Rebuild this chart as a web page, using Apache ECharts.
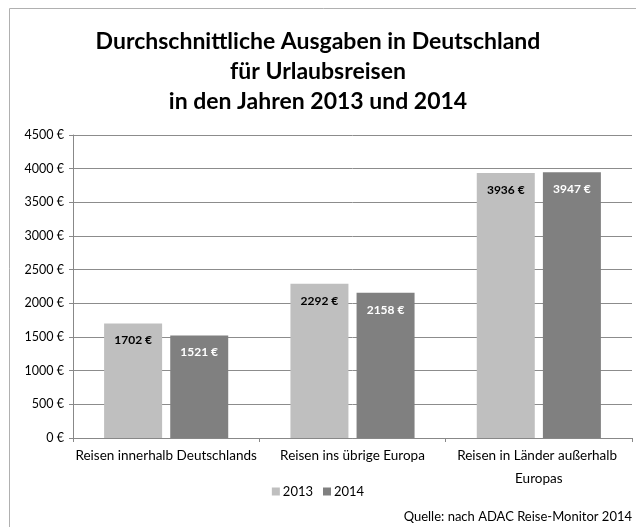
<!DOCTYPE html>
<html>
<head>
<meta charset="utf-8">
<script src="https://cdn.jsdelivr.net/npm/echarts@6/dist/echarts.min.js"></script>
<style>
  html, body { margin: 0; padding: 0; background: #fff; }
  #chart { width: 636px; height: 527px; }
</style>
</head>
<body>
<div id="chart"></div>
<script>
// Daten aus der Vorlage
const categories = ['Reisen innerhalb Deutschlands', 'Reisen ins übrige Europa', 'Reisen in Länder außerhalb Europas'];
const values2013 = [1702, 2292, 3936];
const values2014 = [1521, 2158, 3947];
const seriesNames = ['2013', '2014'];
const titleText = 'Durchschnittliche Ausgaben in Deutschland\nfür Urlaubsreisen\nin den Jahren 2013 und 2014';
const sourceText = 'Quelle: nach ADAC Reise-Monitor 2014';

const fontFamily = 'Lato, "Open Sans", sans-serif';
const chart = echarts.init(document.getElementById('chart'));

const option = {
  backgroundColor: '#fff',
  textStyle: { fontFamily: fontFamily },
  title: {
    text: titleText,
    left: 'center',
    top: 22,
    textStyle: { fontSize: 23, fontWeight: 'bold', color: '#000', lineHeight: 30, fontFamily: fontFamily }
  },
  graphic: [
    {
      type: 'rect',
      shape: { x: 9.5, y: 8.5, width: 640, height: 530 },
      style: { fill: 'none', stroke: '#b0b0b0', lineWidth: 1 },
      silent: true
    },
    {
      type: 'text',
      right: 4,
      bottom: 4,
      style: { text: sourceText, fontSize: 13, fontFamily: 'Lato', fill: '#000' }
    }
  ],
  legend: {
    data: seriesNames,
    bottom: 24,
    left: 'center',
    itemWidth: 8,
    itemHeight: 8,
    itemGap: 10,
    icon: 'rect',
    textStyle: { fontSize: 13, color: '#000', padding: [0, 0, 0, -2] }
  },
  grid: { left: 73, right: 4, top: 135, bottom: 89 },
  xAxis: {
    type: 'category',
    data: categories,
    axisLine: { lineStyle: { color: '#888' } },
    axisTick: { show: true, length: 4, lineStyle: { color: '#888' } },
    axisLabel: {
      fontSize: 13.5,
      color: '#000',
      margin: 6,
      lineHeight: 23,
      width: 185,
      overflow: 'break',
      interval: 0
    }
  },
  yAxis: {
    type: 'value',
    min: 0,
    max: 4500,
    interval: 500,
    axisLine: { show: true, lineStyle: { color: '#888' } },
    axisTick: { show: true, length: 4, lineStyle: { color: '#888' } },
    splitLine: { lineStyle: { color: '#8c8c8c', width: 1 } },
    axisLabel: {
      fontSize: 12.5,
      color: '#000',
      margin: 9,
      formatter: v => v + ' €'
    }
  },
  series: [
    {
      name: seriesNames[0],
      type: 'bar',
      data: values2013,
      barWidth: 58,
      barGap: '14%',
      itemStyle: { color: '#bfbfbf' },
      label: {
        show: true,
        position: 'insideTop',
        distance: 11,
        color: '#000',
        fontWeight: 'bold',
        fontSize: 12,
        formatter: p => p.value + ' €'
      }
    },
    {
      name: seriesNames[1],
      type: 'bar',
      data: values2014,
      barWidth: 58,
      itemStyle: { color: '#808080' },
      label: {
        show: true,
        position: 'insideTop',
        distance: 11,
        color: '#fff',
        fontWeight: 'bold',
        fontSize: 12,
        formatter: p => p.value + ' €'
      }
    }
  ]
};

chart.setOption(option);
</script>
</body>
</html>
